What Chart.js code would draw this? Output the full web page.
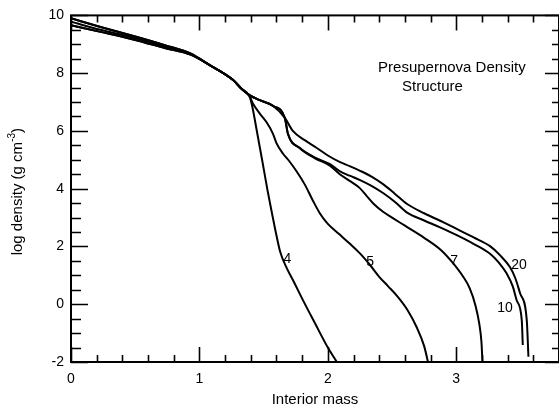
<!DOCTYPE html>
<html>
<head>
<meta charset="utf-8">
<script src="https://cdn.jsdelivr.net/npm/chart.js@4/dist/chart.umd.min.js"></script>
<style>
  html, body { margin: 0; padding: 0; background: #fff; }
  #wrap { width: 559px; height: 410px; }
</style>
</head>
<body>
<div id="wrap"><canvas id="c" width="559" height="410"></canvas></div>
<script>
// ---- data (interior mass vs log density) ----
const mass4 = [0, 0.23, 0.5, 0.73, 0.93, 1.08, 1.26, 1.33, 1.39, 1.41, 1.445, 1.49, 1.53, 1.565, 1.6, 1.63, 1.68, 1.73, 1.805, 1.9, 2.0, 2.07];
const dens4 = [9.9, 9.6, 9.27, 8.97, 8.68, 8.28, 7.77, 7.45, 7.2, 6.88, 6.05, 4.95, 3.95, 3.15, 2.38, 1.8, 1.25, 0.82, 0.15, -0.66, -1.5, -2];

const mass5 = [0, 0.23, 0.5, 0.73, 0.93, 1.08, 1.26, 1.33, 1.39, 1.42, 1.47, 1.523, 1.573, 1.60, 1.65, 1.70, 1.76, 1.82, 1.88, 1.94, 2.0, 2.09, 2.17, 2.25, 2.33, 2.40, 2.47, 2.54, 2.62, 2.69, 2.75, 2.78];
const dens5 = [9.9, 9.6, 9.27, 8.97, 8.68, 8.28, 7.77, 7.45, 7.2, 6.92, 6.6, 6.3, 5.9, 5.58, 5.22, 4.95, 4.58, 4.15, 3.62, 3.13, 2.78, 2.42, 2.1, 1.76, 1.35, 0.95, 0.62, 0.28, -0.2, -0.78, -1.45, -2];

const mass7 = [0, 0.23, 0.5, 0.73, 0.93, 1.08, 1.26, 1.33, 1.39, 1.45, 1.572, 1.665, 1.689, 1.782, 1.9, 2.016, 2.093, 2.17, 2.249, 2.30, 2.36, 2.43, 2.50, 2.6, 2.75, 2.88, 2.97, 3.05, 3.105, 3.15, 3.18, 3.196, 3.204];
const dens7 = [9.78, 9.5, 9.21, 8.92, 8.66, 8.28, 7.77, 7.45, 7.24, 7.1, 6.87, 6.45, 5.9, 5.4, 5.05, 4.8, 4.5, 4.27, 4.02, 3.76, 3.46, 3.2, 3.0, 2.72, 2.3, 1.88, 1.45, 0.98, 0.55, -0.05, -0.7, -1.3, -2];

const mass10 = [0, 0.23, 0.5, 0.73, 0.93, 1.08, 1.26, 1.33, 1.39, 1.45, 1.572, 1.665, 1.69, 1.783, 1.9, 2.017, 2.095, 2.17, 2.251, 2.34, 2.43, 2.523, 2.617, 2.75, 2.874, 3.0, 3.131, 3.263, 3.33, 3.393, 3.44, 3.471, 3.51, 3.518];
const dens10 = [9.66, 9.43, 9.15, 8.87, 8.64, 8.28, 7.77, 7.45, 7.24, 7.1, 6.87, 6.45, 5.89, 5.41, 5.08, 4.85, 4.6, 4.45, 4.3, 4.1, 3.85, 3.54, 3.17, 2.9, 2.66, 2.4, 2.1, 1.75, 1.45, 1.06, 0.62, 0.13, -0.55, -1.41];

const mass20 = [0, 0.23, 0.5, 0.73, 0.93, 1.08, 1.26, 1.33, 1.39, 1.45, 1.572, 1.665, 1.729, 1.82, 1.914, 2.0, 2.095, 2.17, 2.251, 2.34, 2.43, 2.523, 2.617, 2.75, 2.874, 3.0, 3.131, 3.263, 3.34, 3.419, 3.46, 3.497, 3.549, 3.562];
const dens20 = [9.66, 9.43, 9.15, 8.87, 8.64, 8.28, 7.77, 7.45, 7.24, 7.1, 6.87, 6.45, 5.99, 5.68, 5.41, 5.15, 4.92, 4.78, 4.62, 4.42, 4.16, 3.82, 3.47, 3.15, 2.89, 2.62, 2.32, 2.01, 1.7, 1.28, 0.9, 0.38, -0.55, -1.82];

const curveNames = ['4', '5', '7', '10', '20'];
// label anchor (data coordinates) for each curve name
const labelMass = [1.686, 2.329, 2.983, 3.380, 3.489];
const labelDens = [1.55, 1.46, 1.48, -0.12, 1.37];

const xTickLabels = [0, 1, 2, 3];
const yTickLabels = [-2, 0, 2, 4, 6, 8, 10];
const xMinorTicks = [0, 0.2, 0.4, 0.6, 0.8, 1, 1.2, 1.4, 1.6, 1.8, 2, 2.2, 2.4, 2.6, 2.8, 3, 3.2, 3.4, 3.6, 3.8];
const yMinorTicks = [-2, -1.5, -1, -0.5, 0, 0.5, 1, 1.5, 2, 2.5, 3, 3.5, 4, 4.5, 5, 5.5, 6, 6.5, 7, 7.5, 8, 8.5, 9, 9.5, 10];

const xTitle = 'Interior mass';
const yTitleMain = 'log density (g cm';
const yTitleSup = '-3';
const yTitleEnd = ')';
const noteLine1 = 'Presupernova Density';
const noteLine2 = 'Structure';
const notePos1 = [2.391, 8.19];
const notePos2 = [2.578, 7.54];

// ---- chart ----
const FONT = '"Liberation Sans", Arial, Helvetica, sans-serif';
const allMass = [mass4, mass5, mass7, mass10, mass20];
const allDens = [dens4, dens5, dens7, dens10, dens20];

const datasets = curveNames.map((n, i) => ({
  label: n,
  data: allMass[i].map((m, j) => ({ x: m, y: allDens[i][j] })),
  borderColor: '#000',
  borderWidth: 2,
  pointRadius: 0,
  fill: false,
  cubicInterpolationMode: 'monotone'
}));

function isInt(v) { return Math.abs(v - Math.round(v)) < 1e-9; }

const framePlugin = {
  id: 'framePlugin',
  afterDatasetsDraw(chart) {
    const { ctx, chartArea: a, scales: { x, y } } = chart;
    ctx.save();
    ctx.strokeStyle = '#000';
    ctx.lineWidth = 2;
    ctx.strokeRect(a.left, a.top, a.right - a.left, a.bottom - a.top);
    ctx.lineWidth = 1.6;
    ctx.beginPath();
    for (const v of xMinorTicks) {
      const px = Math.round(x.getPixelForValue(v)) + 0.5;
      const len = isInt(v) ? 15 : 7;
      ctx.moveTo(px, a.bottom); ctx.lineTo(px, a.bottom - len);
      ctx.moveTo(px, a.top); ctx.lineTo(px, a.top + len);
    }
    for (const v of yMinorTicks) {
      const py = Math.round(y.getPixelForValue(v)) + 0.5;
      const isMajor = isInt(v / 2);
      const lenL = isMajor ? 17 : 10;
      const lenR = isMajor ? 14 : 7;
      ctx.moveTo(a.left, py); ctx.lineTo(a.left + lenL, py);
      ctx.moveTo(a.right, py); ctx.lineTo(a.right - lenR, py);
    }
    ctx.stroke();

    // texts
    ctx.fillStyle = '#000';
    ctx.font = '14px ' + FONT;
    ctx.textBaseline = 'middle';
    ctx.textAlign = 'center';
    curveNames.forEach((n, i) => {
      ctx.fillText(n, x.getPixelForValue(labelMass[i]), y.getPixelForValue(labelDens[i]));
    });
    ctx.font = '15px ' + FONT;
    ctx.textAlign = 'left';
    ctx.fillText(noteLine1, x.getPixelForValue(notePos1[0]), y.getPixelForValue(notePos1[1]));
    ctx.fillText(noteLine2, x.getPixelForValue(notePos2[0]), y.getPixelForValue(notePos2[1]));

    // x title
    ctx.textAlign = 'center';
    ctx.fillText(xTitle, (a.left + a.right) / 2, 400);

    // y title (rotated, with superscript)
    ctx.save();
    ctx.translate(18, (a.top + a.bottom) / 2 + 3);
    ctx.rotate(-Math.PI / 2);
    ctx.font = '15px ' + FONT;
    const w1 = ctx.measureText(yTitleMain).width;
    const w3 = ctx.measureText(yTitleEnd).width;
    ctx.font = '10px ' + FONT;
    const w2 = ctx.measureText(yTitleSup).width;
    let sx = -(w1 + w2 + w3) / 2;
    ctx.textAlign = 'left';
    ctx.font = '15px ' + FONT;
    ctx.fillText(yTitleMain, sx, 0);
    sx += w1;
    ctx.font = '10px ' + FONT;
    ctx.fillText(yTitleSup, sx, -6);
    sx += w2;
    ctx.font = '15px ' + FONT;
    ctx.fillText(yTitleEnd, sx, 0);
    ctx.restore();
    ctx.restore();
  }
};

new Chart(document.getElementById('c'), {
  type: 'line',
  data: { datasets },
  plugins: [framePlugin],
  options: {
    responsive: false,
    animation: false,
    events: [],
    layout: { padding: { top: 13, right: 0, bottom: 0, left: 0 } },
    plugins: { legend: { display: false }, tooltip: { enabled: false }, title: { display: false } },
    scales: {
      x: {
        type: 'linear', min: 0, max: 3.8, position: 'bottom',
        grid: { display: false, drawTicks: false },
        border: { display: false },
        afterFit: s => { s.height = 48; },
        afterBuildTicks: s => { s.ticks = xTickLabels.map(v => ({ value: v })); },
        ticks: { padding: 9, color: '#000', font: { family: FONT, size: 14 }, maxRotation: 0, autoSkip: false }
      },
      y: {
        type: 'linear', min: -2, max: 10, position: 'left',
        grid: { display: false, drawTicks: false },
        border: { display: false },
        afterFit: s => { s.width = 71; },
        afterBuildTicks: s => { s.ticks = yTickLabels.map(v => ({ value: v })); },
        ticks: { padding: 7, color: '#000', font: { family: FONT, size: 14 }, autoSkip: false }
      }
    }
  }
});
</script>
</body>
</html>
